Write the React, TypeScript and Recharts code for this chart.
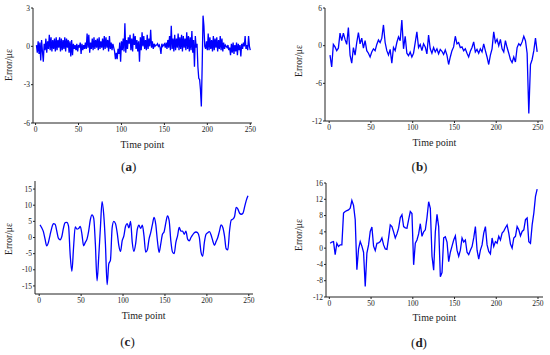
import React from 'react';
import { LineChart, Line, XAxis, YAxis } from 'recharts';

// Prediction error of four models, one panel each, 250 time points.

const FONT = '"Liberation Serif", "Times New Roman", serif';
const INK = '#222';
const BLUE = '#0000ff';

const timeTicks = [0, 50, 100, 150, 200, 250];
const ticksA = [-6, -3, 0, 3];
const ticksB = [-12, -6, 0, 6];
const ticksC = [-15, -10, -5, 0, 5, 10, 15];
const ticksD = [-12, -8, -4, 0, 4, 8, 12, 16];

// (a) every time point, t = 1..250
const errA = [
  0.1, -0.5, 0.4, -0.6, 0.3, -1.1, 0.5, -0.4, -1.2, 0.2,
  -0.3, 0.6, -0.5, 0.4, -0.2, 0.9, -0.3, 0.7, -0.4, 0.5,
  -0.2, 0.6, -0.4, 0.7, -0.3, 0.5, -0.1, 0.7, -0.4, 0.6,
  -0.3, 0.5, -0.2, 0.7, -0.4, 0.6, -0.1, 0.5, -0.5, 0.4,
  -0.8, 0.5, -0.7, 0.2, -0.2, 0.1, -0.3, 0.2, -0.4, 0.1,
  -0.1, 0.3, -0.6, 0.2, -0.3, 0.1, -0.2, 0.3, -0.2, 1.0,
  -0.1, 0.9, -0.5, 0.3, -0.2, 0.6, -0.3, 0.7, -0.2, 0.5,
  -0.1, 0.6, -0.3, 0.7, -0.2, 0.4, -0.1, 0.6, -0.3, 0.8,
  -0.2, 0.7, -0.1, 0.5, -0.4, 0.8, -0.2, 0.3, -0.3, 0.2,
  -0.1, -0.4, -1.0, -0.5, -1.0, -0.2, -0.6, 0.3, -1.2, 0.4,
  -0.3, 0.6, -0.4, 1.8, -0.5, 0.5, -0.2, 0.7, 0.2, 0.9,
  -0.3, 0.6, -0.4, 1.0, 0.1, 0.8, -0.2, 0.5, -0.4, 0.4,
  -1.2, 0.7, -0.3, 1.1, 0.0, 0.8, -0.2, 0.5, -0.3, 0.9,
  -0.2, 0.6, 0.0, 1.3, -0.1, 0.4, -0.2, 0.2, 0.0, 0.1,
  0.1, 0.2, 0.0, 0.1, -0.1, -0.6, 0.2, 0.0, 0.1, 0.2,
  -0.1, 0.3, -0.2, 0.5, -0.1, 0.8, -0.3, 1.6, -0.2, 0.6,
  -0.4, 0.9, -0.3, 0.6, -0.1, 1.0, -0.3, 0.7, -0.2, 0.9,
  -0.4, 0.8, -0.1, 0.6, -0.3, 1.1, -0.2, 0.8, -0.4, 0.7,
  -0.3, 1.2, -0.5, 0.5, -1.6, 0.8, -0.1, 0.2, -1.6, -2.5,
  -2.6, -3.4, -4.7, -1.5, 2.4, 1.6, 0.0, -0.2, 0.4, -0.3,
  1.0, -0.3, 0.7, -0.2, 0.5, -0.4, 0.8, -0.3, 0.6, -0.1,
  0.7, -0.4, 0.5, -0.2, 0.8, -0.3, 0.6, -0.4, 0.3, -0.2,
  0.1, 0.0, -0.1, 0.1, -0.3, -0.1, -0.7, 0.2, -0.5, 0.3,
  -0.6, 0.1, -0.4, 0.3, -0.7, 0.2, -0.3, 0.1, -0.8, 0.2,
  -0.2, 0.3, 0.0, 0.8, -0.2, 0.1, -0.3, 0.8, 0.0, -0.3,
];

// (b)-(d) every second time point, t = 1, 3, ..., 249
const errB = [
  -1.5, -3.4, 0.2, -0.2, -0.8, -0.4, 2.0, 0.8, 2.0, 1.0,
  0.2, 2.9, -1.5, -2.8, -0.3, -1.5, 0.5, 2.1, 0.3, 1.2,
  -0.4, 0.8, -0.8, -1.2, -1.8, -1.0, -0.5, -0.8, 0.2, 0.9,
  0.5, 1.2, 3.3, 0.5, -0.8, -1.5, -0.6, -2.8, -0.3, -0.8,
  0.5, 1.4, 0.8, 4.1, -0.5, 1.5, -1.2, -1.6, -1.0, -1.8,
  -1.2, 0.5, 2.2, -0.3, 0.2, -0.8, 0.3, -0.2, -1.3, 1.7,
  -0.5, -1.2, -0.3, -1.0, -0.5, -1.3, -0.6, -0.9, -1.4, -0.7,
  -1.5, -3.0, -1.8, -0.8, -0.2, 1.5, 0.3, 0.5, -0.3, -0.2,
  -0.8, -0.5, -1.2, -1.8, -0.9, -0.3, 0.6, -1.0, -0.6, -1.2,
  -0.5, -1.0, 0.3, -0.8, -1.8, -3.0, -1.5, -0.5, 2.2, 0.5,
  1.0, 0.0, 1.0, -0.5, -1.0, 0.8, -0.3, -1.2, -2.2, -2.7,
  -1.8, -2.6, -0.3, 0.3, 0.0, 0.6, 1.5, 0.8, -1.2, -10.8,
  -3.0, -2.2, -0.8, 1.2, -1.0,
];

const errC = [
  3.9, 3.0, 1.8, -0.5, -2.6, -1.5, 0.8, 3.0, 4.3, 4.1,
  2.0, -0.3, -0.7, 0.3, 3.0, 4.6, 4.7, 3.5, -5.5, -10.5,
  -3.0, 3.3, 2.6, 2.8, 3.4, 1.0, -2.6, -1.5, -0.5, 2.0,
  5.5, 7.0, 6.0, -2.0, -13.4, -6.0, 3.0, 11.1, 7.0, -2.0,
  -14.6, -8.2, -7.0, 3.0, 5.0, 4.3, 1.5, -2.5, -4.3, -1.0,
  0.5, 3.5, 4.3, 3.0, 5.0, -1.5, -4.3, -2.0, 2.5, 3.8,
  2.8, 3.8, 0.5, -4.5, -3.8, -0.5, 1.5, 4.0, 6.2, 4.1,
  -1.0, -4.6, -2.0, 1.0, 1.8, 4.5, 6.7, 5.2, -1.0, -4.5,
  -5.0, -1.5, 0.5, 3.1, 2.0, 2.0, 1.0, 2.0, -0.5, -1.0,
  0.0, 0.8, 1.5, 1.7, 1.5, 0.0, -4.5, -5.8, -1.5, 1.0,
  1.5, 1.8, 0.8, -1.0, -2.4, -1.2, 0.0, 2.0, 3.9, 3.1,
  0.5, -3.5, -3.8, 2.0, 5.4, 5.7, 6.5, 9.3, 8.8, 7.5,
  7.2, 7.5, 9.5, 11.5, 12.9,
];

const errD = [
  1.2, 1.5, 1.6, -1.6, 1.2, 0.4, 0.8, 0.8, 8.6, 9.0,
  9.2, 9.4, 9.8, 11.7, 10.5, 7.0, -5.3, -0.2, 1.6, 0.5,
  -1.0, -9.4, -1.2, 0.8, 4.1, 5.2, 0.5, -0.6, 1.2, 1.3,
  1.6, 2.5, 0.8, -0.2, -0.3, 2.5, 5.7, 5.3, 4.0, 2.5,
  3.5, 4.9, 7.5, 8.2, 5.3, 5.0, 4.9, 7.0, 9.0, 8.5,
  -4.1, 1.2, 2.0, 3.5, 6.0, 2.9, 4.0, 4.5, 7.5, 11.4,
  9.8, -2.0, -5.4, 4.0, 8.3, 5.3, -7.0, -6.0, 2.5, 2.8,
  1.5, -3.3, -1.0, 0.5, 2.0, 3.0, -0.5, -2.0, -0.5, 2.5,
  1.5, 2.0, -1.0, -1.6, -0.5, 0.4, 2.5, 5.3, -0.5, -2.7,
  -0.5, 0.8, 3.7, 5.3, 0.8, -0.8, -1.4, 2.5, 0.4, 1.6,
  1.2, 2.9, 2.0, 3.7, 4.2, 5.0, 5.7, 3.7, 1.0, 0.0,
  2.5, 2.9, 5.3, 4.5, 3.0, 4.1, 4.5, 7.0, 7.4, 1.6,
  1.2, 5.7, 8.6, 12.7, 14.5,
];

function rows(values: number[], step: number) {
  return values.map((v, i) => ({ t: 1 + i * step, v }));
}

type Pt = { x: number; y: number };

interface PanelProps {
  left: number;
  top: number;
  width: number;
  height: number;
  margin: { top: number; right: number; bottom: number; left: number };
  xDomain: [number, number];
  yDomain: [number, number];
  yTicks: number[];
  data: { t: number; v: number }[];
  smooth?: boolean;
}

function Panel(p: PanelProps) {
  const tick = { fontSize: 7.5, fill: INK, fontFamily: FONT };
  return (
    <div style={{ position: 'absolute', left: p.left, top: p.top, width: p.width, height: p.height }}>
      <LineChart width={p.width} height={p.height} data={p.data} margin={p.margin}>
        <XAxis
          dataKey="t"
          type="number"
          domain={p.xDomain}
          ticks={timeTicks}
          interval={0}
          allowDataOverflow
          height={20}
          tick={tick}
          tickSize={2}
          tickMargin={2}
          tickLine={{ stroke: INK }}
          axisLine={{ stroke: INK }}
        />
        <XAxis
          xAxisId="frame"
          orientation="top"
          type="number"
          domain={p.xDomain}
          height={0}
          tick={false}
          tickLine={false}
          axisLine={{ stroke: INK }}
        />
        <YAxis
          type="number"
          domain={p.yDomain}
          ticks={p.yTicks}
          interval={0}
          allowDataOverflow
          width={22}
          tick={tick}
          tickSize={2}
          tickMargin={1}
          tickLine={{ stroke: INK }}
          axisLine={{ stroke: INK }}
        />
        <YAxis
          yAxisId="frame"
          orientation="right"
          type="number"
          domain={[0, 1]}
          width={0}
          tick={false}
          tickLine={false}
          axisLine={{ stroke: INK }}
        />
        <Line
          dataKey="v"
          type={p.smooth ? 'monotone' : 'linear'}
          stroke={BLUE}
          strokeWidth={1.3}
          dot={false}
          isAnimationActive={false}
        />
      </LineChart>
    </div>
  );
}

function Caption({ at, size, rotate, children }: { at: Pt; size: number; rotate?: boolean; children: React.ReactNode }) {
  return (
    <div
      style={{
        position: 'absolute',
        left: at.x,
        top: at.y,
        fontFamily: FONT,
        fontSize: size,
        lineHeight: 1,
        color: INK,
        whiteSpace: 'nowrap',
        transform: `translate(-50%, -50%)${rotate ? ' rotate(-90deg)' : ''}`,
      }}
    >
      {children}
    </div>
  );
}

const panels = [
  {
    key: 'a',
    left: 0, top: 0, width: 275, height: 175,
    margin: { top: 8, right: 23, bottom: 32, left: 11 },
    xDomain: [-3, 252] as [number, number],
    yDomain: [-6, 3] as [number, number],
    yTicks: ticksA,
    data: rows(errA, 1),
    smooth: false,
    xTitle: { x: 142.5, y: 144.5 },
    yTitle: { x: 10, y: 65 },
    letter: { x: 128.7, y: 166.3 },
  },
  {
    key: 'b',
    left: 275, top: 0, width: 275, height: 175,
    margin: { top: 8, right: 7, bottom: 34, left: 28 },
    xDomain: [-5, 256] as [number, number],
    yDomain: [-12, 6] as [number, number],
    yTicks: ticksB,
    data: rows(errB, 2),
    smooth: false,
    xTitle: { x: 434.5, y: 143 },
    yTitle: { x: 300, y: 61 },
    letter: { x: 419.5, y: 166.3 },
  },
  {
    key: 'c',
    left: 0, top: 175, width: 275, height: 180,
    margin: { top: 6, right: 22, bottom: 41, left: 13 },
    xDomain: [-5, 255] as [number, number],
    yDomain: [-17.5, 17.5] as [number, number],
    yTicks: ticksC,
    data: rows(errC, 2),
    smooth: true,
    xTitle: { x: 143.7, y: 316 },
    yTitle: { x: 10, y: 239 },
    letter: { x: 127.5, y: 341.3 },
  },
  {
    key: 'd',
    left: 275, top: 175, width: 275, height: 180,
    margin: { top: 8, right: 7, bottom: 38, left: 29 },
    xDomain: [-4, 256] as [number, number],
    yDomain: [-12, 16] as [number, number],
    yTicks: ticksD,
    data: rows(errD, 2),
    smooth: false,
    xTitle: { x: 434.5, y: 317.8 },
    yTitle: { x: 300, y: 235 },
    letter: { x: 419, y: 342 },
  },
];

export default function App() {
  return (
    <div style={{ position: 'absolute', left: 0, top: 0, width: 550, height: 355, background: '#fff' }}>
      {panels.map((p) => (
        <React.Fragment key={p.key}>
          <Panel
            left={p.left}
            top={p.top}
            width={p.width}
            height={p.height}
            margin={p.margin}
            xDomain={p.xDomain}
            yDomain={p.yDomain}
            yTicks={p.yTicks}
            data={p.data}
            smooth={p.smooth}
          />
          <Caption at={p.xTitle} size={10}>Time point</Caption>
          <Caption at={p.yTitle} size={9.5} rotate>Error/με</Caption>
          <Caption at={p.letter} size={13}>
            (<b>{p.key}</b>)
          </Caption>
        </React.Fragment>
      ))}
    </div>
  );
}
